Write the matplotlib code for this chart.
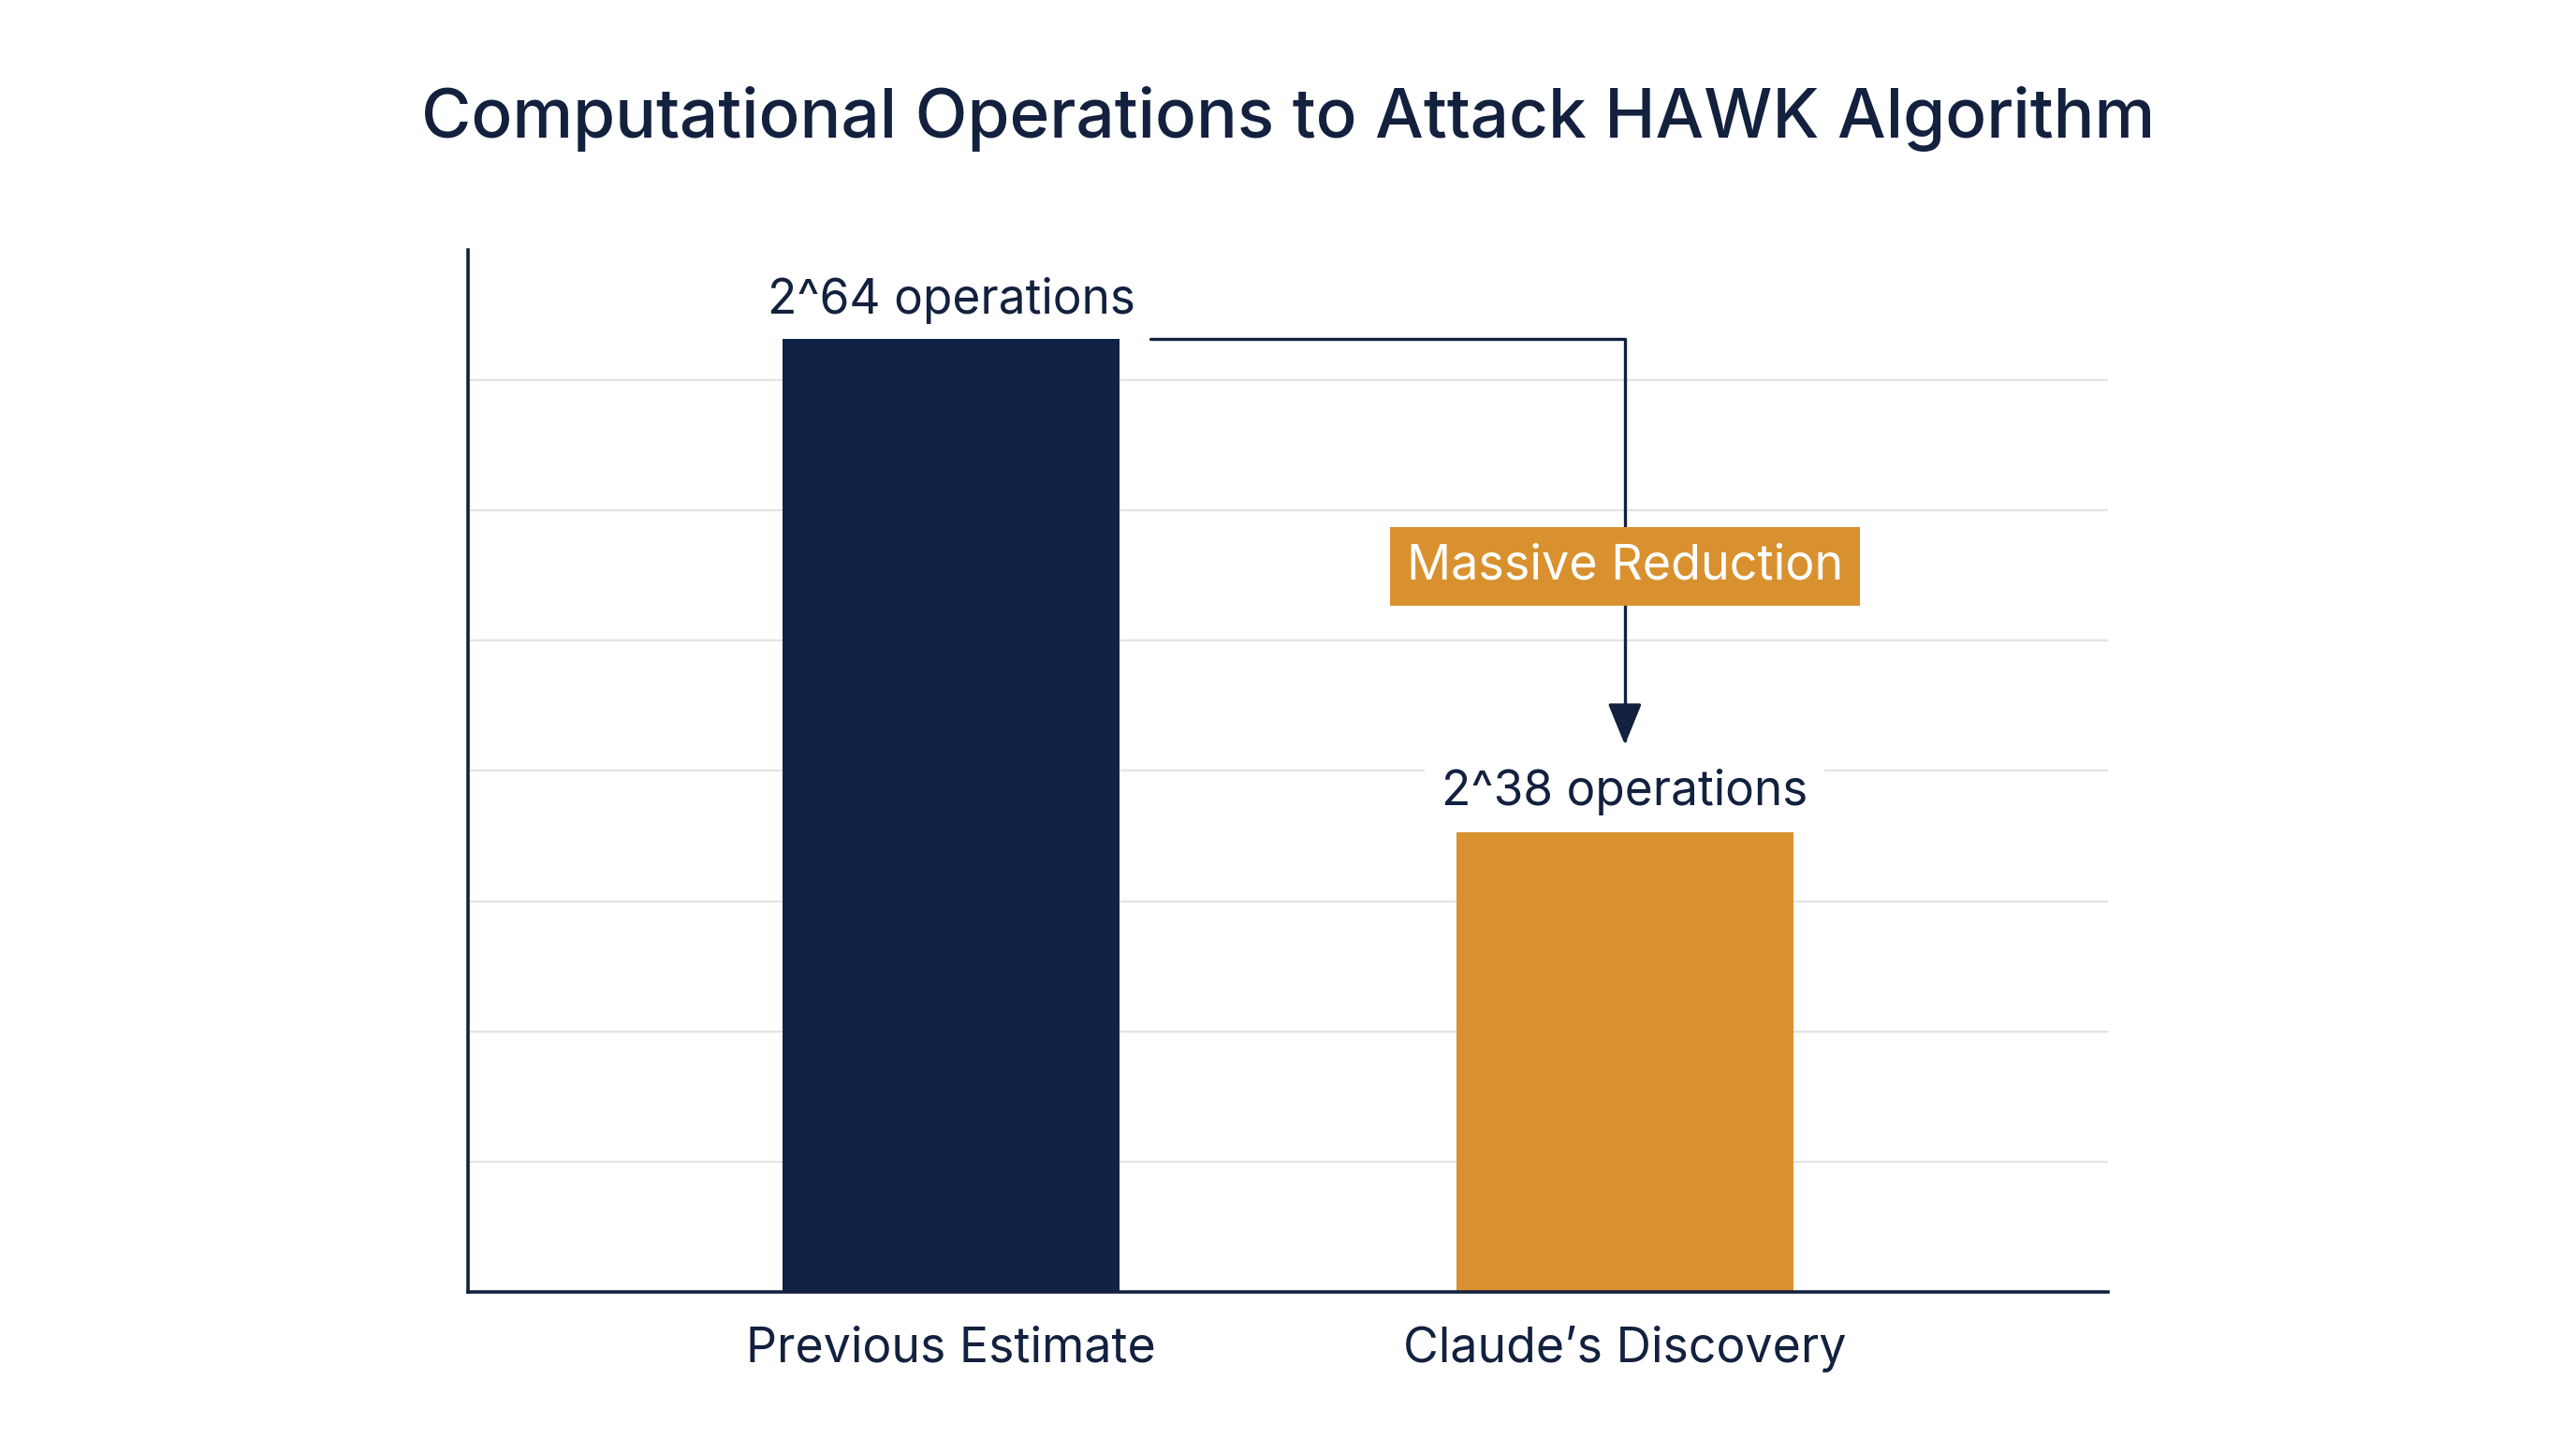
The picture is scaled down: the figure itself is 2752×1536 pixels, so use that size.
import matplotlib
matplotlib.use("Agg")
import matplotlib.pyplot as plt

# ---- data ----
categories = ["Previous Estimate", "Claude\u2019s Discovery"]
bar_heights = [73.2, 35.5]          # visual bar heights (grid units x10)
value_labels = ["2^64 operations", "2^38 operations"]
callout_text = "Massive Reduction"
arrow_end_level = 42.0
callout_level = 55.7
title = "Computational Operations to Attack HAWK Algorithm"

NAVY = "#112247"
ORANGE = "#d9912f"
TEXT = "#13213f"
GRID = "#e3e3e3"

plt.rcParams["font.family"] = ["Inter", "DejaVu Sans"]

fig = plt.figure(figsize=(27.52, 15.36), dpi=100, facecolor="white")
ax = fig.add_axes([0.1817, 0.1016, 0.8183 - 0.1817, 0.8262 - 0.1016])
ax.set_facecolor("white")

x = list(range(len(categories)))
bw = 0.5
ax.bar(x, bar_heights, width=bw, color=[NAVY, ORANGE], zorder=2)

ax.set_xlim(-0.717, 1.717)
ax.set_ylim(0, 80)
ax.set_yticks(range(10, 80, 10))
ax.yaxis.grid(True, color=GRID, linewidth=1.6, zorder=0)
ax.set_axisbelow(True)
ax.tick_params(axis="y", length=0, labelleft=False)
ax.set_xticks(x)
ax.set_xticklabels(categories, fontsize=37.3, color=TEXT)
ax.tick_params(axis="x", length=0, pad=26)

for s in ["top", "right"]:
    ax.spines[s].set_visible(False)
for s in ["left", "bottom"]:
    ax.spines[s].set_color(TEXT)
    ax.spines[s].set_linewidth(2.6)

# value labels
for i, (h, lab) in enumerate(zip(bar_heights, value_labels)):
    bbox = None
    if i == 1:
        bbox = dict(boxstyle="square,pad=0.35", facecolor="white", edgecolor="none")
    ax.annotate(lab, xy=(x[i], h), xytext=(0, 19), textcoords="offset points",
                ha="center", va="baseline", fontsize=37, color=TEXT,
                bbox=bbox, zorder=4)

# connector arrow
start_x = x[0] + bw / 2 + 0.046
ax.annotate("", xy=(x[1], arrow_end_level), xytext=(start_x, bar_heights[0]),
            arrowprops=dict(arrowstyle="-|>,head_length=1.1,head_width=0.45",
                            connectionstyle="angle,angleA=0,angleB=90,rad=0",
                            color=TEXT, lw=2.4, shrinkA=0, shrinkB=0,
                            mutation_scale=25),
            zorder=3)

# callout
ax.text(x[1], callout_level, callout_text, ha="center", va="center",
        fontsize=37.5, color="white", zorder=5,
        bbox=dict(boxstyle="square,pad=0.34", facecolor=ORANGE, edgecolor="none"))

fig.text(0.5, 0.904, title, ha="center", va="baseline", fontsize=52.5,
         fontweight="medium", color=TEXT)

fig.savefig("out.png", dpi=100, facecolor="white")
